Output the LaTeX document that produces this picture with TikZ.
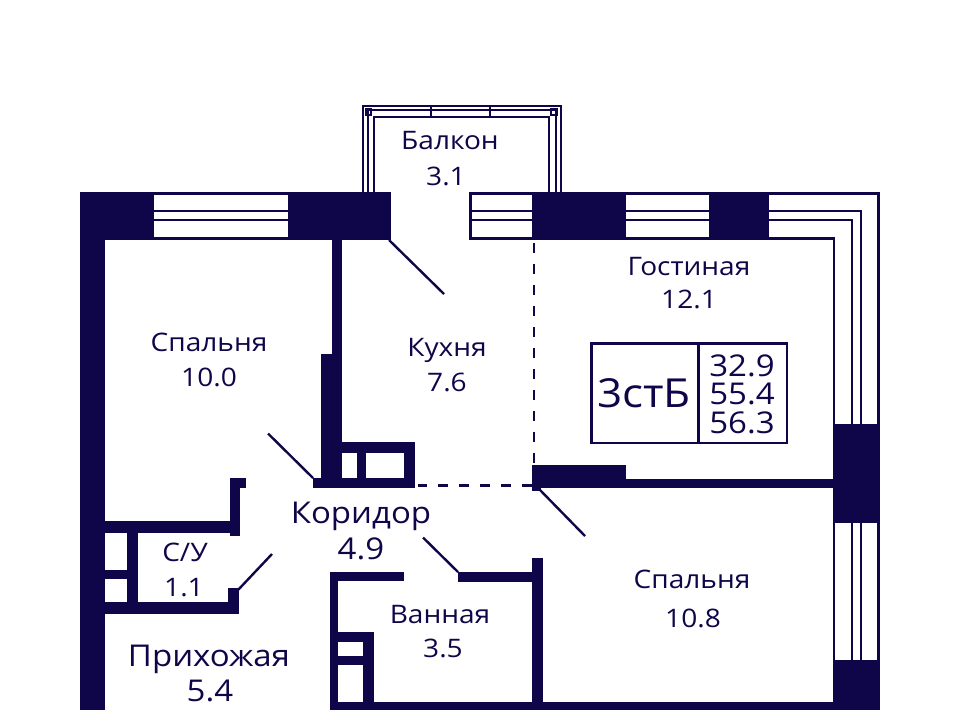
\documentclass[tikz,border=0pt]{standalone}
\usepackage{fontspec}
\setmainfont[FakeStretch=1.1]{Open Sans}
\usepackage{tikz}
\definecolor{colorWall}{RGB}{14,6,72}
\newcommand\lineW{2.6pt}
% wall block between two corners
\newcommand\wallBox[2]{
	\fill[colorWall] #1 rectangle #2;
}
% white cut-out inside a wall
\newcommand\holeBox[2]{
	\fill[white] #1 rectangle #2;
}
% window in the top wall, from x1 to x2
\newcommand\windowTop[2]{
	\fill[colorWall] (#1,192) rectangle (#2,240);
	\fill[white] (#1,194.5) rectangle (#2,237);
	\foreach \i in {211,220}{
		\draw[planline] (#1,\i) to (#2,\i);
	}
}
\tikzset{
	planline/.style={draw=colorWall, line width=\lineW},
	railline/.style={draw=colorWall, line width=2pt},
	doorline/.style={draw=colorWall, line width=2.4pt},
	dashline/.style={draw=colorWall, line width=2.6pt, dash pattern=on 10pt off 11pt},
	roomlabel/.style={text=colorWall, font=\fontsize{25.5}{25.5}\selectfont, inner sep=0pt, text height=18pt, text depth=0pt, anchor=center},
	biglabel/.style={text=colorWall, font=\fontsize{30}{30}\selectfont, inner sep=0pt, text height=21.5pt, text depth=0pt, anchor=center}
}
\begin{document}
\begin{tikzpicture}[x=1pt,y=-1pt]
	\useasboundingbox (0,0) rectangle (960,710);
	
	% outer walls
	\wallBox{(80,192)}{(391,240)}
	\wallBox{(80,192)}{(104.5,710)}
	\wallBox{(532,192)}{(626,240)}
	\wallBox{(709,192)}{(768.5,240)}
	\wallBox{(832.5,423.5)}{(879.5,522.5)}
	\wallBox{(832.5,660)}{(879.5,710)}
	\wallBox{(330,701.5)}{(879.5,710)}
	
	% windows
	\windowTop{153.5}{288}
	\windowTop{626}{709}
	\draw[planline] (532,193.3) to (470.3,193.3) to (470.3,238.7) to (532,238.7);
	\foreach \i in {211,220}{
		\draw[planline] (470.3,\i) to (532,\i);
	}
	\draw[planline] (768.5,193.3) to (878.2,193.3) to (878.2,423.5);
	\draw[planline] (768.5,211) to (861,211) to (861,423.5);
	\draw[planline] (768.5,220) to (852,220) to (852,423.5);
	\draw[planline] (768.5,238.7) to (833.8,238.7) to (833.8,423.5);
	\draw[planline] (833.8,522.5) to (833.8,660);
	\draw[planline] (878.2,522.5) to (878.2,660);
	\foreach \i in {852,861}{
		\draw[planline] (\i,522.5) to (\i,660);
	}
	
	% balcony
	\draw[railline] (362.5,192) to (362.5,106) to (561,106) to (561,192);
	\draw[railline] (367.5,192) to (367.5,110) to (555.5,110) to (555.5,192);
	\draw[railline] (373.5,192) to (373.5,116.5) to (548.5,116.5) to (548.5,192);
	\draw[railline] (365.5,108.5) rectangle (371,114.5);
	\draw[railline] (550.5,108.5) rectangle (556.5,114.5);
	\foreach \i in {431,490}{
		\draw[planline] (\i,106) to (\i,117);
	}
	
	% bedroom and kitchen
	\wallBox{(332,240)}{(341.5,487.5)}
	\wallBox{(321,353.5)}{(332,487.5)}
	\wallBox{(313,478)}{(415,487.5)}
	\wallBox{(341.5,442)}{(415,478)}
	\holeBox{(341.5,452.5)}{(356.5,477.5)}
	\holeBox{(365.5,452.5)}{(403.5,477.5)}
	
	% living room and second bedroom
	\wallBox{(533,478.5)}{(833,488)}
	\wallBox{(533,465)}{(625.5,488)}
	\wallBox{(532,465)}{(541,491)}
	
	% toilet
	\wallBox{(104.5,520.5)}{(239.5,533)}
	\wallBox{(230,478)}{(239.5,536)}
	\wallBox{(230,478)}{(246,487.5)}
	\wallBox{(104.5,601.5)}{(239,614)}
	\wallBox{(228,588)}{(239,614)}
	\wallBox{(127,533)}{(137.5,601.5)}
	\wallBox{(104.5,570)}{(127,579)}
	
	% bathroom
	\wallBox{(330,571.5)}{(338,710)}
	\wallBox{(330,571.5)}{(403.5,581)}
	\wallBox{(457.5,571.5)}{(532,581.5)}
	\wallBox{(532,558)}{(542.5,702)}
	\wallBox{(338,632)}{(374,702)}
	\holeBox{(338,642)}{(362.5,655.5)}
	\holeBox{(338,665)}{(362.5,702)}
	
	% doors
	\draw[doorline] (389,240) to (444,294);
	\draw[doorline] (313,478) to (268,433.5);
	\draw[doorline] (540,490) to (585,536);
	\draw[doorline] (423,537.5) to (458,572);
	\draw[doorline] (238,590) to (272,554);
	
	% open plan borders
	\draw[dashline] (534,243) to (534,465);
	\draw[dashline] (532,485.5) to (418,485.5);
	
	% flat type box
	\draw[planline] (591.5,343.5) rectangle (787,443);
	\draw[planline] (698.5,343.5) to (698.5,443);
	
	% room labels
	\node[roomlabel] (balconyName) at (450,140) {Балкон};
	\node[roomlabel] (balconyArea) at (446,176) {3.1};
	\node[roomlabel] (livingName) at (689,266) {Гостиная};
	\node[roomlabel] (livingArea) at (689,299.5) {12.1};
	\node[roomlabel] (bedroomAName) at (209,342.5) {Спальня};
	\node[roomlabel] (bedroomAArea) at (209,377) {10.0};
	\node[roomlabel] (kitchenName) at (447,347) {Кухня};
	\node[roomlabel] (kitchenArea) at (447,382) {7.6};
	\node[biglabel] (corridorName) at (361,513) {Коридор};
	\node[biglabel] (corridorArea) at (361,549) {4.9};
	\node[roomlabel] (toiletName) at (185,552) {С/У};
	\node[roomlabel] (toiletArea) at (184,587.5) {1.1};
	\node[roomlabel] (bathName) at (440,614) {Ванная};
	\node[roomlabel] (bathArea) at (443,648) {3.5};
	\node[biglabel] (hallName) at (209,655.5) {Прихожая};
	\node[biglabel] (hallArea) at (210,691) {5.4};
	\node[roomlabel] (bedroomBName) at (692,579.5) {Спальня};
	\node[roomlabel] (bedroomBArea) at (693,618) {10.8};
	\node[biglabel,font=\fontsize{40}{40}\selectfont,text height=29pt] (flatType) at (644,393) {3стБ};
	\node[biglabel] (areaLiving) at (742,366) {32.9};
	\node[biglabel] (areaTotal) at (742,393.5) {55.4};
	\node[biglabel] (areaFull) at (742,422.5) {56.3};
\end{tikzpicture}
\end{document}
